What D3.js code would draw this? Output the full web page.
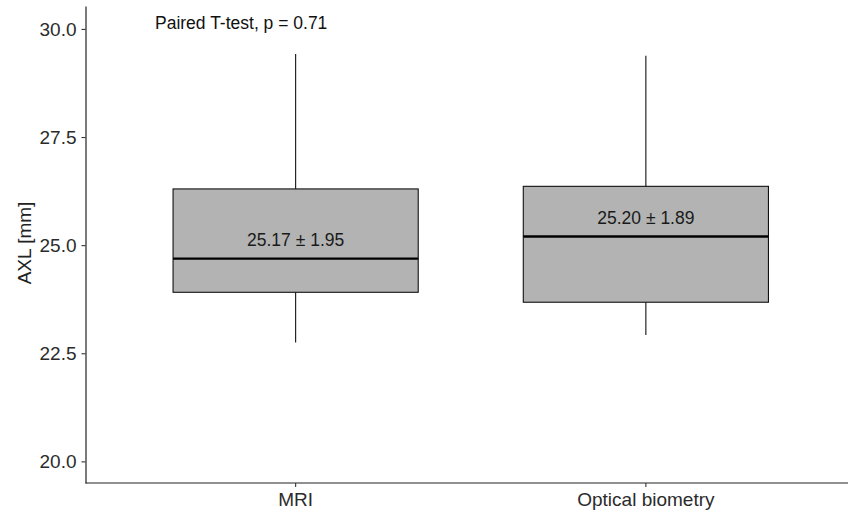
<!DOCTYPE html>
<html>
<head>
<meta charset="utf-8">
<script src="https://cdn.jsdelivr.net/npm/d3@7"></script>
<style>
  html, body { margin: 0; padding: 0; background: #fff; overflow: hidden; }
  svg { display: block; }
  text { font-family: "Liberation Sans", Arial, sans-serif; }
</style>
</head>
<body>
<div id="chart"></div>
<script>
// box summary values
var categories = ["MRI", "Optical biometry"];
var whiskerLow = [22.75, 22.92];
var q1 = [23.91, 23.68];
var median = [24.69, 25.20];
var q3 = [26.30, 26.36];
var whiskerHigh = [29.42, 29.38];
var meanLabels = ["25.17 \u00b1 1.95", "25.20 \u00b1 1.89"];
var yTicks = [20, 22.5, 25, 27.5, 30];
var testLabel = "Paired T-test, p = 0.71";

var svgWidth = 848;
var svgHeight = 516;

var margin = { top: 6, right: -8, bottom: 33, left: 85.5 };
var chartWidth = svgWidth - margin.left - margin.right;
var chartHeight = svgHeight - margin.top - margin.bottom;

var svg = d3.select("#chart")
  .append("svg")
  .attr("width", svgWidth)
  .attr("height", svgHeight);

var chartGroup = svg.append("g")
  .attr("transform", `translate(${margin.left}, ${margin.top})`);

var boxes = categories.map(function(c, i) {
  return { cat: c, lo: whiskerLow[i], q1: q1[i], med: median[i], q3: q3[i], hi: whiskerHigh[i], label: meanLabels[i] };
});

//scales
var xScale = d3.scaleBand()
  .domain(categories)
  .range([0, chartWidth])
  .paddingInner(0.3)
  .paddingOuter(0.25);

var yScale = d3.scaleLinear()
  .domain([19.5, 30.53])
  .range([chartHeight, 0]);

// whiskers
chartGroup.selectAll(".whisker")
  .data(boxes)
  .enter()
  .append("line")
  .attr("class", "whisker")
  .attr("x1", d => xScale(d.cat) + xScale.bandwidth() / 2)
  .attr("x2", d => xScale(d.cat) + xScale.bandwidth() / 2)
  .attr("y1", d => yScale(d.lo))
  .attr("y2", d => yScale(d.hi))
  .attr("stroke", "#111")
  .attr("stroke-width", 1.1);

// boxes
chartGroup.selectAll(".box")
  .data(boxes)
  .enter()
  .append("rect")
  .attr("class", "box")
  .attr("x", d => xScale(d.cat))
  .attr("width", xScale.bandwidth())
  .attr("y", d => yScale(d.q3))
  .attr("height", d => yScale(d.q1) - yScale(d.q3))
  .attr("fill", "#b3b3b3")
  .attr("stroke", "#111")
  .attr("stroke-width", 1.1);

// medians
chartGroup.selectAll(".median")
  .data(boxes)
  .enter()
  .append("line")
  .attr("class", "median")
  .attr("x1", d => xScale(d.cat))
  .attr("x2", d => xScale(d.cat) + xScale.bandwidth())
  .attr("y1", d => yScale(d.med))
  .attr("y2", d => yScale(d.med))
  .attr("stroke", "#000")
  .attr("stroke-width", 2.3);

// mean +- sd text, sits above the median line
chartGroup.selectAll(".meanLabel")
  .data(boxes)
  .enter()
  .append("text")
  .attr("class", "meanLabel")
  .attr("x", d => xScale(d.cat) + xScale.bandwidth() / 2)
  .attr("y", d => yScale(d.med) - 12.5)
  .attr("text-anchor", "middle")
  .style("font-size", "17.5px")
  .style("fill", "#1a1a1a")
  .text(d => d.label);

// axes
var xAxis = d3.axisBottom(xScale).tickSize(4).tickSizeOuter(0).tickPadding(6);
var yAxis = d3.axisLeft(yScale).tickValues(yTicks).tickFormat(d3.format(".1f")).tickSize(4).tickSizeOuter(0).tickPadding(5);

var xg = chartGroup.append("g")
  .attr("transform", `translate(0, ${chartHeight})`)
  .call(xAxis);

var yg = chartGroup.append("g")
  .call(yAxis);

// x axis line runs all the way to the right edge
xg.select(".domain").attr("d", `M0,0H${svgWidth - margin.left + 2}`);

[xg, yg].forEach(function(g) {
  g.select(".domain").attr("stroke", "#222").attr("stroke-width", 1.2);
  g.selectAll(".tick line").attr("stroke", "#333").attr("stroke-width", 1.1);
  g.selectAll(".tick text")
    .style("font-family", "'Liberation Sans', Arial, sans-serif")
    .style("font-size", "19px")
    .style("fill", "#2b2b2b");
});

// y axis title
chartGroup.append("text")
  .attr("transform", "rotate(-90)")
  .attr("x", 0 - yScale(25.05))
  .attr("y", 0 - margin.left + 31)
  .attr("text-anchor", "middle")
  .style("font-size", "19px")
  .style("fill", "#222")
  .text("AXL [mm]");

// test annotation
chartGroup.append("text")
  .attr("x", 155 - margin.left)
  .attr("y", 29 - margin.top)
  .style("font-size", "17.5px")
  .style("fill", "#111")
  .text(testLabel);
</script>
</body>
</html>
